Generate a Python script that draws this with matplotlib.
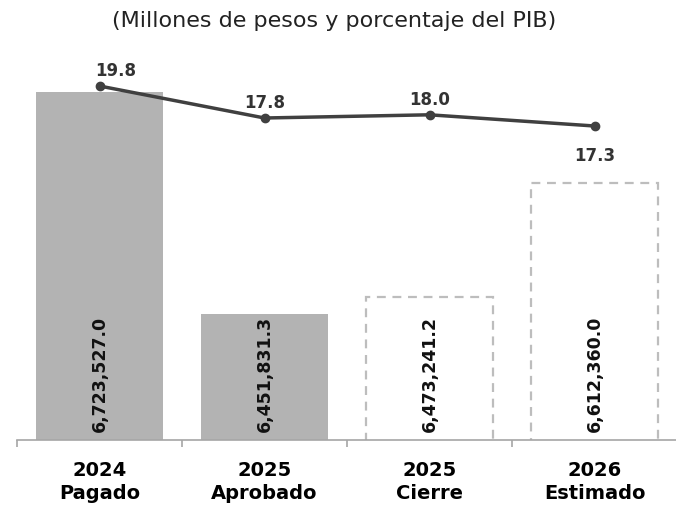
import numpy as np
import matplotlib
matplotlib.use("Agg")
import matplotlib.pyplot as plt

# Data
years = ["2024", "2025", "2025", "2026"]
stages = ["Pagado", "Aprobado", "Cierre", "Estimado"]
amounts = [6723527.0, 6451831.3, 6473241.2, 6612360.0]
pct_pib = [19.8, 17.8, 18.0, 17.3]
projected = [False, False, True, True]

plt.rcParams['font.family'] = ['DejaVu Sans']

fig = plt.figure(figsize=[6.76, 5.08], dpi=100)
ax = fig.add_axes([17/676, 68/508, 660/676, 380/508])
x = np.arange(len(amounts))

# bars
for i in range(len(amounts)):
    if projected[i]:
        ax.bar(x[i], amounts[i], width=0.77, color="white", edgecolor="#BDBDBD",
               linestyle=(0, (4, 3)), linewidth=1.6, zorder=2)
    else:
        ax.bar(x[i], amounts[i], width=0.77, color="#B3B3B3", edgecolor="none", zorder=2)
    ax.text(x[i], 6297600 + 8*1224, "{:,.1f}".format(amounts[i]), rotation=90,
            ha="center", va="bottom", fontsize=12.5, fontweight="bold", color="#111111", zorder=5)

ax.set_ylim(6297600, 6297600 + 380*1224)
ax.set_xlim(-0.5, 3.5)

ax.spines['top'].set_visible(False)
ax.spines['right'].set_visible(False)
ax.spines['left'].set_visible(False)
ax.spines['bottom'].set_color("#A6A6A6")
ax.spines['bottom'].set_linewidth(1.2)
ax.set_yticks([])
ax.set_xticks(x)
ax.set_xticklabels([y + "\n" + s for y, s in zip(years, stages)], fontsize=14,
                   fontweight="bold", linespacing=1.3)
ax.tick_params(axis='x', which='major', length=0, pad=15)
ax.set_xticks([-0.5, 0.5, 1.5, 2.5], minor=True)
ax.tick_params(axis='x', which='minor', length=5, color="#A6A6A6", width=1.2)

# line on secondary axis
ax2 = ax.twinx()
ax2.set_ylim(19.8 + 26/16 - 380/16, 19.8 + 26/16)
ax2.plot(x, pct_pib, color="#404040", linewidth=2.5, marker="o", markersize=6, zorder=4)
ax2.axis("off")
for i in range(len(pct_pib)):
    if i == 3:
        ax2.annotate("{:.1f}".format(pct_pib[i]), (x[i], pct_pib[i]), xytext=(0, -15),
                     textcoords="offset points", ha="center", va="top",
                     fontsize=12, fontweight="bold", color="#333333")
    else:
        ax2.annotate("{:.1f}".format(pct_pib[i]), (x[i] + (0.1 if i == 0 else 0), pct_pib[i]),
                     xytext=(0, 4), textcoords="offset points", ha="center", va="bottom",
                     fontsize=12, fontweight="bold", color="#333333")

fig.text(0.494, 0.958, "(Millones de pesos y porcentaje del PIB)", ha="center", va="center",
         fontsize=16, color="#222222")

fig.savefig("out.png", dpi=100)
